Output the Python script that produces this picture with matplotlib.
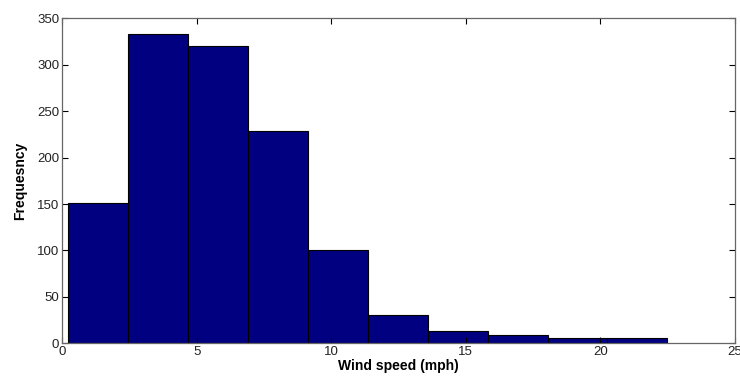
import numpy as np
import matplotlib
matplotlib.use('Agg')
import matplotlib.pyplot as plt

plt.rc('font', family=['Liberation Sans', 'DejaVu Sans'], size=9.5)

# histogram bins (wind speed, mph) and counts
bin_edges = np.linspace(0.22, 22.49, 11)
counts = [151, 333, 320, 229, 100, 30, 13, 9, 6, 6]

fig = plt.figure(figsize=(7.4, 3.79), dpi=100)
ax = fig.add_axes([0.0838, 0.0942, 0.9094, 0.8575])

ax.bar(bin_edges[:-1], counts, width=np.diff(bin_edges), align='edge',
       color='#000080', edgecolor='black', linewidth=0.8)

ax.set_xlim(0, 25)
ax.set_ylim(0, 350)
ax.set_xticks(np.arange(0, 26, 5))
ax.set_yticks(np.arange(0, 351, 50))
ax.tick_params(direction='in', top=True, right=True, length=4, width=0.8,
               colors='black', labelcolor='#222222', pad=2)
for s in ax.spines.values():
    s.set_color('#666666')
    s.set_linewidth(0.9)

ax.set_xlabel('Wind speed (mph)', fontweight='bold', fontsize=10, labelpad=1)
ax.set_ylabel('Frequesncy', fontweight='bold', fontsize=10, labelpad=7)

fig.savefig('out.png', dpi=100)
